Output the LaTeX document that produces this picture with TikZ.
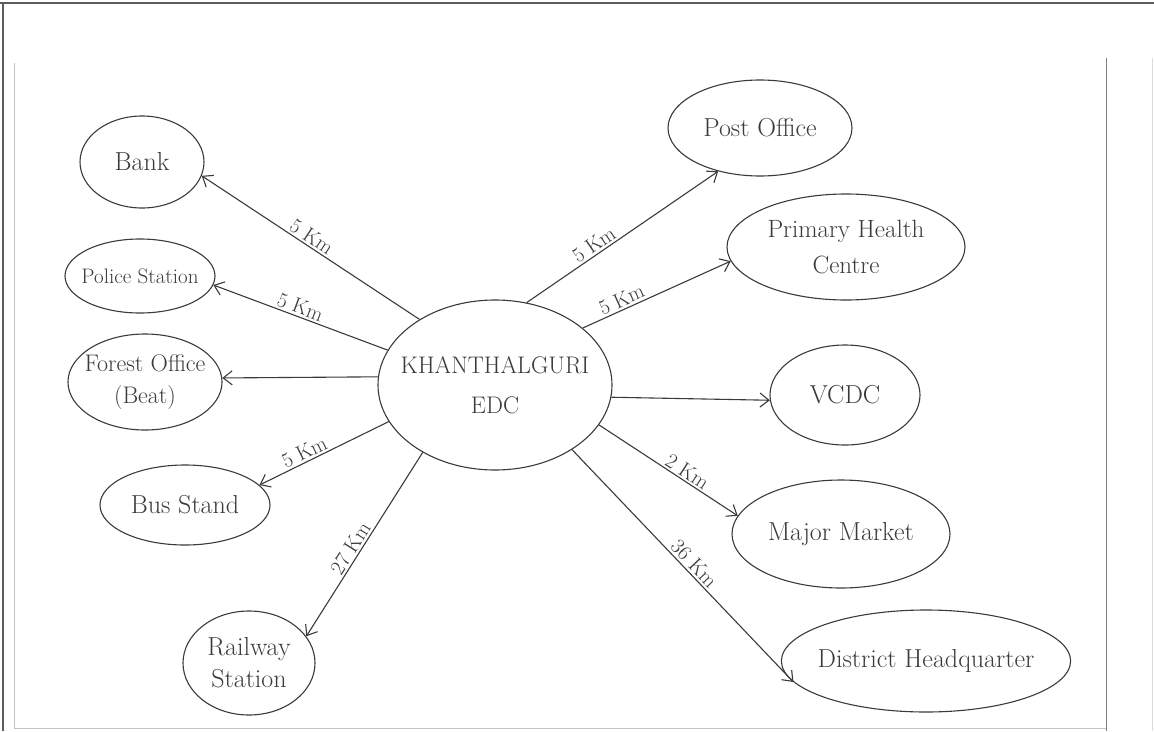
\documentclass[tikz,border=0pt]{standalone}
\usetikzlibrary{shapes.geometric,arrows.meta}
\definecolor{ink}{HTML}{3A3A3A}
\definecolor{framegray}{HTML}{5C5C5C}
\definecolor{sheetgray}{HTML}{C4C4C4}
\tikzset{place/.style={draw=ink, line width=1.1pt, ellipse, inner sep=-6pt,
        align=center, text=ink, font=\fontsize{26}{32}\selectfont},
    hub/.style={place, inner sep=-12pt, font=\fontsize{24}{40}\selectfont},
    link/.style={ink, line width=1.1pt, -{Straight Barb[length=9pt,width=14pt]}},
    backlink/.style={ink, line width=1.1pt, {Straight Barb[length=9pt,width=14pt]}-},
    dist/.style={sloped, above, text=ink, inner sep=2pt,
        font=\fontsize{21}{24}\selectfont},
    }

\begin{document}
\begin{tikzpicture}[x=1pt,y=-1pt]
\useasboundingbox (0,0) rectangle (1154,731);
% edges of the scanned sheet
\draw[framegray, line width=1.5pt] (0,3) -- (1154,3);
\draw[framegray, line width=1.5pt] (3,3) -- (3,731);
\draw[sheetgray, line width=1pt] (14,63) -- (14,728) -- (1106,728);
\draw[gray, line width=1pt] (1106,58) -- (1106,731);
\draw[sheetgray!60, line width=1pt] (1152,58) -- (1152,731);

% centre
\node[hub, minimum width=234pt, minimum height=170pt] (edc) at (495,385) {KHANTHALGURI\\EDC};

% left side
\node[place, minimum width=124pt, minimum height=92pt] (bank) at (142,162) {Bank};
\node[place, minimum width=150pt, minimum height=74pt,
      font=\fontsize{21}{24}\selectfont] (police) at (140,276) {Police Station};
\node[place, minimum width=154pt, minimum height=96pt,
      font=\fontsize{24}{32}\selectfont] (forest) at (145,382) {Forest Office\\(Beat)};
\node[place, minimum width=170pt, minimum height=80pt] (bus) at (185,505) {Bus Stand};
\node[place, minimum width=132pt, minimum height=104pt] (rail) at (249,663) {Railway\\Station};

% right side
\node[place, minimum width=184pt, minimum height=96pt] (post) at (760,128) {Post Office};
\node[place, minimum width=238pt, minimum height=106pt,
      font=\fontsize{25}{36}\selectfont] (phc) at (846,247) {Primary Health\\Centre};
\node[place, minimum width=150pt, minimum height=100pt] (vcdc) at (845,395) {VCDC};
\node[place, minimum width=218pt, minimum height=108pt] (market) at (841,534) {Major Market};
\node[place, minimum width=286pt, minimum height=102pt] (dhq) at (926,661) {District Headquarter};

% distances
\draw[backlink] (bank.-13) -- node[dist, pos=0.48] {5 Km} (edc.139);
\draw[backlink] (police.-7) -- node[dist, pos=0.48] {5 Km} (edc.162);
\draw[backlink] (forest.3) -- (edc.176);
\draw[backlink] (bus.15) -- node[dist, pos=0.38] {5 Km} (edc.-161);
\draw[backlink] (rail.25) -- node[dist, pos=0.45] {27 Km} (edc.-137);
\draw[link] (edc.69) -- node[dist, pos=0.38] {5 Km} (post.-134);
\draw[link] (edc.33) -- node[dist, pos=0.29] {5 Km} (phc.-173);
\draw[link] (edc.-6) -- (vcdc.184);
\draw[link] (edc.-21) -- node[dist, pos=0.6] {2 Km} (market.170);
\draw[link] (edc.-40) -- node[dist, pos=0.52] {36 Km} (dhq.-171);
\end{tikzpicture}
\end{document}
